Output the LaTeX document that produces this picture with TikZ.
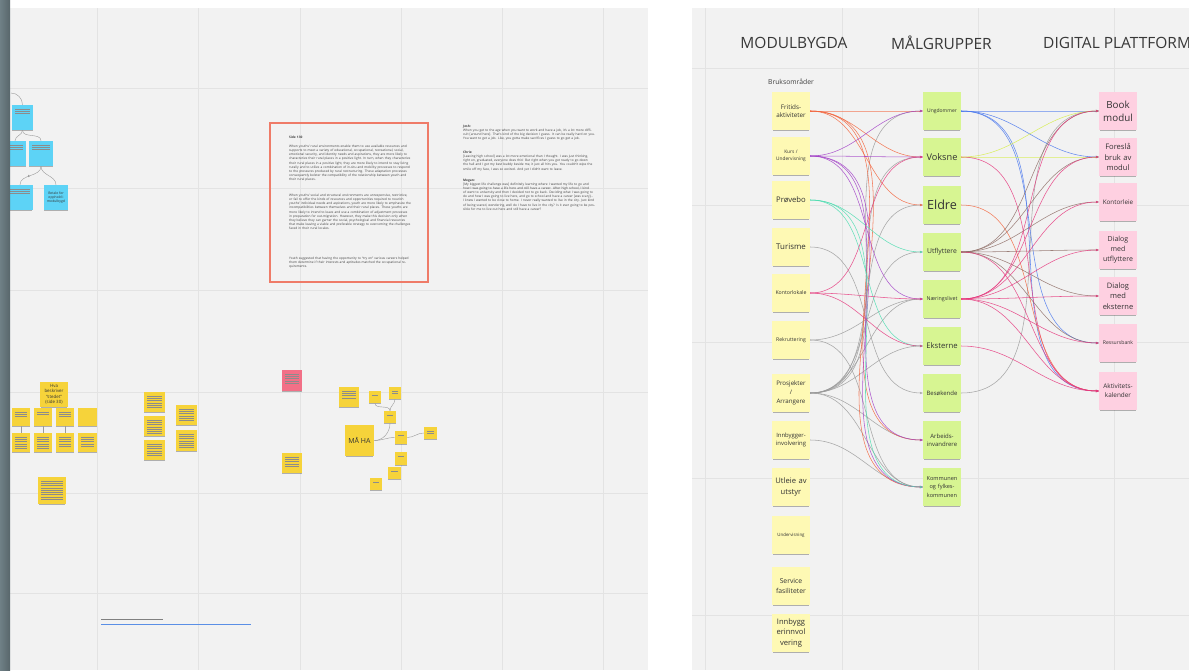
\documentclass[tikz,border=0pt]{standalone}
\usepackage{fontspec}
\setmainfont{Open Sans}
\usetikzlibrary{arrows.meta,shadows,calc}

\definecolor{board}{HTML}{F2F2F2}
\definecolor{gridc}{HTML}{E3E3E3}
\definecolor{paleyel}{HTML}{FEF9B4}
\definecolor{palegrn}{HTML}{D7F592}
\definecolor{palepnk}{HTML}{FED0E1}
\definecolor{stickyyel}{HTML}{F6D33A}
\definecolor{stickyblu}{HTML}{5DD3F6}
\definecolor{stickyred}{HTML}{F27087}
\definecolor{boxred}{HTML}{EF7B68}
\definecolor{stripA}{HTML}{6F8086}
\definecolor{stripB}{HTML}{58666B}
\definecolor{orng}{HTML}{F2663F}
\definecolor{purp}{HTML}{A342C8}
\definecolor{tealc}{HTML}{4CDDB0}
\definecolor{magc}{HTML}{E6397E}
\definecolor{bluc}{HTML}{4A78EE}
\definecolor{ylwc}{HTML}{D6EE4A}
\definecolor{brnc}{HTML}{8E6D66}
\definecolor{gryc}{HTML}{9A9A9A}
\definecolor{linkc}{HTML}{5A8FE6}

\newcommand\fs[2]{\fontsize{#1}{#2}\selectfont}

\tikzset{
  stick/.style={inner sep=0pt, align=center, text=black!80,
    drop shadow={shadow xshift=0pt, shadow yshift=-1.6pt, shadow scale=.96,
                 opacity=.28, fill=black}},
  postit/.style={stick, minimum width=38pt, minimum height=38pt, text width=37pt},
  sz/.style 2 args={minimum width=#1pt, minimum height=#2pt},
  scrib/.style={path picture={
    \foreach \k in {1,...,#1}
      \draw[black!45, line width=.32pt]
        ($(path picture bounding box.north west)+(3pt,-1.5pt-\k*2.3pt)$) --
        ($(path picture bounding box.north east)+(-3pt,-1.5pt-\k*2.3pt)$);}},
  txt/.style={inner sep=0pt, anchor=north west, align=left, text=black!75,
    font={\fs{3.2}{4.1}}},
  head/.style={font={\fs{15.5}{18}}, text=black!78, inner sep=0pt}
}

\begin{document}
\begin{tikzpicture}[x=1pt,y=-1pt,>={Stealth[length=3pt,width=2.4pt]}]
\useasboundingbox (0,0) rectangle (1189,670);
\fill[white] (0,0) rectangle (1189,670);

% venstre tavle
\fill[board] (0,8) rectangle (648,670);
\foreach \gx in {97,198,300,401,502,603}
  \draw[gridc,line width=.6pt] (\gx,8) -- (\gx,670);
\foreach \gy in {88,188,290,392,493,593}
  \draw[gridc,line width=.6pt] (0,\gy) -- (648,\gy);

% hoyre tavle
\fill[board] (692,8) rectangle (1189,670);
\foreach \gx in {705,842,978,1114}
  \draw[gridc,line width=.6pt] (\gx,8) -- (\gx,670);
\foreach \gy in {68,205,342,478,615}
  \draw[gridc,line width=.6pt] (692,\gy) -- (1189,\gy);

% blaa lapper
\begin{scope}[every node/.style={stick, fill=stickyblu}]
    \node[sz={21}{25}, scrib=3] (bygg) at (22.5,117.5) {};
    \node[sz={22}{25}, scrib=3] (kurs0) at (15,153.5) {};
    \node[sz={24}{25}, scrib=3] (kafe) at (41,153.5) {};
    \node[sz={26}{25}, scrib=3] (oppf) at (20,197.5) {};
    \node[sz={24}{25}, font={\fs{3.4}{4.3}}] (betal) at (56,197.5) {Betale for\\opphold i\\modulbygd};
\end{scope}
\begin{scope}[gryc, line width=.4pt]
    \coordinate (bstart) at (11,93);
    \draw (bstart) to[out=0,in=90] (bygg.north);
    \draw (bygg.south) to[out=-90,in=90] (kurs0.north);
    \draw (bygg.south) to[out=-90,in=90] (kafe.north);
    \draw (kafe.south) to[out=-90,in=90] (oppf.north);
    \draw (kafe.south) to[out=-90,in=90] (betal.north);
    \node[font={\fs{3}{3}}, text=black!70] (dollar) at (29,176) {\$};
\end{scope}

% gule lapper nede til venstre
\begin{scope}[every node/.style={stick, fill=stickyyel}]
    \node[sz={28}{25}, font={\fs{4.4}{5.5}}] (hva) at (54,394.5) {Hva\\beskriver\\``stedet''\\(side 30)};
    \node[sz={18}{18}, scrib=3] (r1a) at (21,417) {};
    \node[sz={18}{18}, scrib=2] (r1b) at (43,417) {};
    \node[sz={18}{18}, scrib=3] (r1c) at (65,417) {};
    \node[sz={19}{18}] (r1d) at (87.5,417) {};
    \node[sz={18}{19}, scrib=6] (r2a) at (21,442.5) {};
    \node[sz={18}{19}, scrib=6] (r2b) at (43,442.5) {};
    \node[sz={18}{19}, scrib=5] (r2c) at (65,442.5) {};
    \node[sz={19}{19}, scrib=5] (r2d) at (87.5,442.5) {};
    \node[sz={28}{27}, scrib=9] (bunn) at (52,490.5) {};
    % midten
    \node[sz={21}{20}, scrib=6] (ma1) at (154.5,402) {};
    \node[sz={21}{20}, scrib=7] (ma2) at (154.5,426) {};
    \node[sz={21}{20}, scrib=6] (ma3) at (154.5,450) {};
    \node[sz={21}{20}, scrib=6] (mb1) at (186.5,415) {};
    \node[sz={21}{21}, scrib=7] (mb2) at (186.5,440.5) {};
    \node[sz={20}{20}, scrib=5] (mgul) at (292,463) {};
    \node[sz={20}{21}, scrib=5, fill=stickyred] (mrod) at (292,380.5) {};
    % MAA HA
    \node[sz={29}{31}, font={\fs{7}{8}}] (maha) at (359.5,440.5) {MÅ HA};
    \node[sz={20}{20}, scrib=4] (mh1) at (349,397) {};
    \node[sz={12}{12}, scrib=1] (pris) at (375,397) {};
    \node[sz={12}{12}, scrib=2] (bygn) at (395,393) {};
    \node[sz={12}{12}, scrib=1] (salg) at (390,417) {};
    \node[sz={12}{13}, scrib=1] (pris2) at (401,437.5) {};
    \node[sz={13}{12}, scrib=2] (ikke) at (430.5,433) {};
    \node[sz={12}{13}, scrib=1] (mh2) at (401,458.5) {};
    \node[sz={13}{12}, scrib=1] (mh3) at (394.5,473) {};
    \node[sz={12}{12}, scrib=1] (mh4) at (376,484) {};
\end{scope}
\begin{scope}[gryc, line width=.4pt]
    \draw (r1a) -- (r2a);
    \draw (r1b) -- (r2b);
    \draw (r1c) -- (r2c);
    \draw (pris.south) to[out=-90,in=90] (salg.north);
    \draw (bygn.south) to[out=-90,in=90] (salg.north);
    \draw (salg.south) to[out=-90,in=0] (maha.east);
    \draw (maha.east) to[out=0,in=180] (pris2.west);
    \draw (pris2.east) to[out=0,in=180] (ikke.west);
\end{scope}

% kilde
\draw[black!50, line width=.5pt] (101,619) -- (163,619);
\draw[linkc, line width=.5pt] (101,624) -- (251,624);

% sitatboks
\draw[boxred, line width=1.3pt] (270,123) rectangle (428,282);
\node[txt, text width=123pt] (side) at (289,136) {\textbf{Side 130}};
\node[txt, text width=123pt] (p1) at (289,145) {When youths' rural environments enable them to use available resources and supports to meet a variety of educational, occupational, recreational, social, emotional security, and identity needs and aspirations, they are more likely to characterize their rural places in a positive light. In turn, when they characterize their rural places in a positive light, they are more likely to intend to stay living rurally and to utilize a combination of in-situ and mobility processes to respond to the pressures produced by rural restructuring. These adaptation processes consequently bolster the compatibility of the relationship between youth and their rural places.};
\node[txt, text width=123pt] (p2) at (289,194) {When youths' social and structural environments are unresponsive, restrictive, or fail to offer the kinds of resources and opportunities required to nourish youths' individual needs and aspirations, youth are more likely to emphasize the incompatibilities between themselves and their rural places. These youths are more likely to intend to leave and use a combination of adjustment processes in preparation for out-migration. However, they make this decision only when they believe they can garner the social, psychological and financial resources that make leaving a viable and preferable strategy to overcoming the challenges faced in their rural locales.};
\node[txt, text width=123pt] (p3) at (289,257) {Youth suggested that having the opportunity to ``try on'' various careers helped them determine if their interests and aptitudes matched the occupational requirements.};

% sitater
\node[txt, text width=132pt] (josh) at (463,125) {\textbf{Josh:}\\When you get to the age when you want to work and have a job, it's a lot more difficult [around here]. That's kind of the big decision I guess. It can be really hard on you. You want to get a job. Like, you gotta make sacrifices I guess to go get a job.};
\node[txt, text width=132pt] (chris) at (463,151) {\textbf{Chris:}\\{[Leaving high school]} was a lot more emotional than I thought. I was just thinking, right on, graduated, everyone does this! But right when you got ready to go down the hall and I got my best buddy beside me, it just all hits you. You couldn't wipe the smile off my face, I was so excited. And yet I didn't want to leave.};
\node[txt, text width=132pt] (megan) at (463,179) {\textbf{Megan:}\\{[My biggest life challenge was]} definitely learning where I wanted my life to go and how I was going to have a life here and still have a career. After high school, I kind of went to university and then I decided not to go back. Deciding what I was going to do and how I was going to live here, and go to school and have a career [was scary]... I knew I wanted to be close to home. I never really wanted to live in the city. Just kind of being scared, wondering, well do I have to live in the city? Is it ever going to be possible for me to live out here and still have a career?};

% mork kant til venstre
\shade[left color=stripA, right color=stripB] (0,0) rectangle (10,670);

% overskrifter
\node[head] (hmod) at (794,43) {MODULBYGDA};
\node[head] (hmal) at (941.5,43) {MÅLGRUPPER};
\node[head, anchor=west] (hdig) at (1043,43) {DIGITAL PLATTFORM};
\node[font={\fs{6.8}{8}}, text=black!75, inner sep=0pt] (bruk) at (791,82) {Bruksområder};

% bruksomraader
\begin{scope}[every node/.style={postit, fill=paleyel}]
    \node[font={\fs{6.3}{8.7}}] (fri) at (791,111) {Fritids-\\aktiviteter};
    \node[font={\fs{4.8}{7.6}}] (kurs) at (791,156) {Kurs /\\Undervisning};
    \node[font={\fs{7.7}{9}}] (prov) at (791,200) {Prøvebo};
    \node[font={\fs{7.9}{9}}] (tur) at (791,247) {Turisme};
    \node[font={\fs{5.2}{6}}] (kont) at (791,293) {Kontorlokale};
    \node[font={\fs{5.1}{6}}] (rekr) at (791,340) {Rekruttering};
    \node[font={\fs{6.2}{9}}] (pros) at (791,393) {Prosjekter\\/\\Arrangere};
    \node[font={\fs{5.9}{8.3}}] (innb) at (791,440) {Innbygger-\\involvering};
    \node[font={\fs{7.6}{11}}] (utl) at (791,487) {Utleie av\\utstyr};
    \node[font={\fs{4.4}{5}}] (underv) at (791,535) {Undervisning};
    \node[font={\fs{6.8}{9.3}}] (serv) at (791,586) {Service\\fasiliteter};
    \node[font={\fs{7.6}{10.5}}] (innb2) at (791,633) {Innbygg\\erinnvol\\vering};
\end{scope}

% maalgrupper
\begin{scope}[every node/.style={postit, fill=palegrn}]
    \node[font={\fs{5}{6}}] (ung) at (942,111) {Ungdommer};
    \node[font={\fs{9.2}{10}}] (voks) at (942,157) {Voksne};
    \node[font={\fs{12.6}{14}}] (eld) at (942,205) {Eldre};
    \node[font={\fs{6.8}{8}}] (utf) at (942,252) {Utflyttere};
    \node[font={\fs{5.3}{6}}] (naer) at (942,299) {Næringslivet};
    \node[font={\fs{7.7}{9}}] (eks) at (942,346) {Eksterne};
    \node[font={\fs{6}{7}}] (bes) at (942,393) {Besøkende};
    \node[font={\fs{6}{8.3}}] (arb) at (942,440) {Arbeids-\\invandrere};
    \node[font={\fs{5.6}{8.2}}] (komm) at (942,487) {Kommunen\\og fylkes-\\kommunen};
\end{scope}

% digital plattform
\begin{scope}[every node/.style={postit, fill=palepnk}]
    \node[font={\fs{9.8}{13.3}}] (book) at (1118,111) {Book\\modul};
    \node[font={\fs{7.6}{10.8}}] (fores) at (1118,157) {Foreslå\\bruk av\\modul};
    \node[font={\fs{6.3}{7}}] (kleie) at (1118,202) {Kontorleie};
    \node[font={\fs{7}{10}}] (dutf) at (1118,250) {Dialog\\med\\utflyttere};
    \node[font={\fs{7.5}{10.8}}] (deks) at (1118,296) {Dialog\\med\\eksterne};
    \node[font={\fs{5.1}{6}}] (ress) at (1118,343) {Ressursbank};
    \node[font={\fs{6.4}{9}}] (akt) at (1118,391) {Aktivitets-\\kalender};
\end{scope}

\begin{scope}[every edge/.style={draw, line width=.55pt, opacity=.85, out=0, in=180}]
    % bruksomraader -> maalgrupper
    \path [->] (tur.east) edge[gryc] (bes.west);
    \path [->] (rekr.east) edge[gryc] (naer.west);
    \path [->] (rekr.east) edge[gryc] (komm.west);
    \path [->] (innb.east) edge[gryc] (komm.west);
    \path [->] (pros.east) edge[gryc] (ung.west);
    \path [->] (pros.east) edge[gryc] (voks.west);
    \path [->] (pros.east) edge[gryc] (eld.west);
    \path [->] (pros.east) edge[gryc] (utf.west);
    \path [->] (pros.east) edge[gryc] (naer.west);
    \path [->] (pros.east) edge[gryc] (eks.west);
    \path [->] (pros.east) edge[gryc] (arb.west);
    \path [->] (pros.east) edge[gryc] (komm.west);
    \path [->] (fri.east) edge[orng] (ung.west);
    \path [->] (fri.east) edge[orng] (voks.west);
    \path [->] (fri.east) edge[orng] (eld.west);
    \path [->] (fri.east) edge[orng] (arb.west);
    \path [->] (fri.east) edge[orng] (komm.west);
    \path [->] (kurs.east) edge[purp] (ung.west);
    \path [->] (kurs.east) edge[purp] (voks.west);
    \path [->] (kurs.east) edge[purp] (naer.west);
    \path [->] (kurs.east) edge[purp] (arb.west);
    \path [->] (kurs.east) edge[purp] (komm.west);
    \path [->] (prov.east) edge[tealc] (utf.west);
    \path [->] (prov.east) edge[tealc] (eks.west);
    \path [->] (prov.east) edge[tealc] (komm.west);
    \path [->] (kont.east) edge[magc] (voks.west);
    \path [->] (kont.east) edge[magc] (naer.west);
    \path [->] (kont.east) edge[magc] (eks.west);
    % maalgrupper -> digital plattform
    \path [->] (bes.east) edge[gryc] (book.west);
    \path [->] (ung.east) edge[bluc] (book.west);
    \path [->] (ung.east) edge[bluc] (fores.west);
    \path [->] (ung.east) edge[bluc] (ress.west);
    \path [->] (ung.east) edge[bluc] (akt.west);
    \path [->] (voks.east) edge[ylwc] (book.west);
    \path [->] (voks.east) edge[ylwc] (fores.west);
    \path [->] (voks.east) edge[magc] (akt.west);
    \path [->] (eld.east) edge[orng] (akt.west);
    \path [->] (utf.east) edge[brnc] (book.west);
    \path [->] (utf.east) edge[brnc] (fores.west);
    \path [->] (utf.east) edge[brnc] (kleie.west);
    \path [->] (utf.east) edge[brnc] (dutf.west);
    \path [->] (utf.east) edge[brnc] (deks.west);
    \path [->] (utf.east) edge[brnc] (ress.west);
    \path [->] (utf.east) edge[magc] (akt.west);
    \path [->] (naer.east) edge[magc] (book.west);
    \path [->] (naer.east) edge[magc] (fores.west);
    \path [->] (naer.east) edge[magc] (kleie.west);
    \path [->] (naer.east) edge[magc] (dutf.west);
    \path [->] (naer.east) edge[magc] (deks.west);
    \path [->] (naer.east) edge[magc] (ress.west);
    \path [->] (naer.east) edge[magc] (akt.west);
    \path [->] (eks.east) edge[magc] (akt.west);
\end{scope}
\end{tikzpicture}
\end{document}
